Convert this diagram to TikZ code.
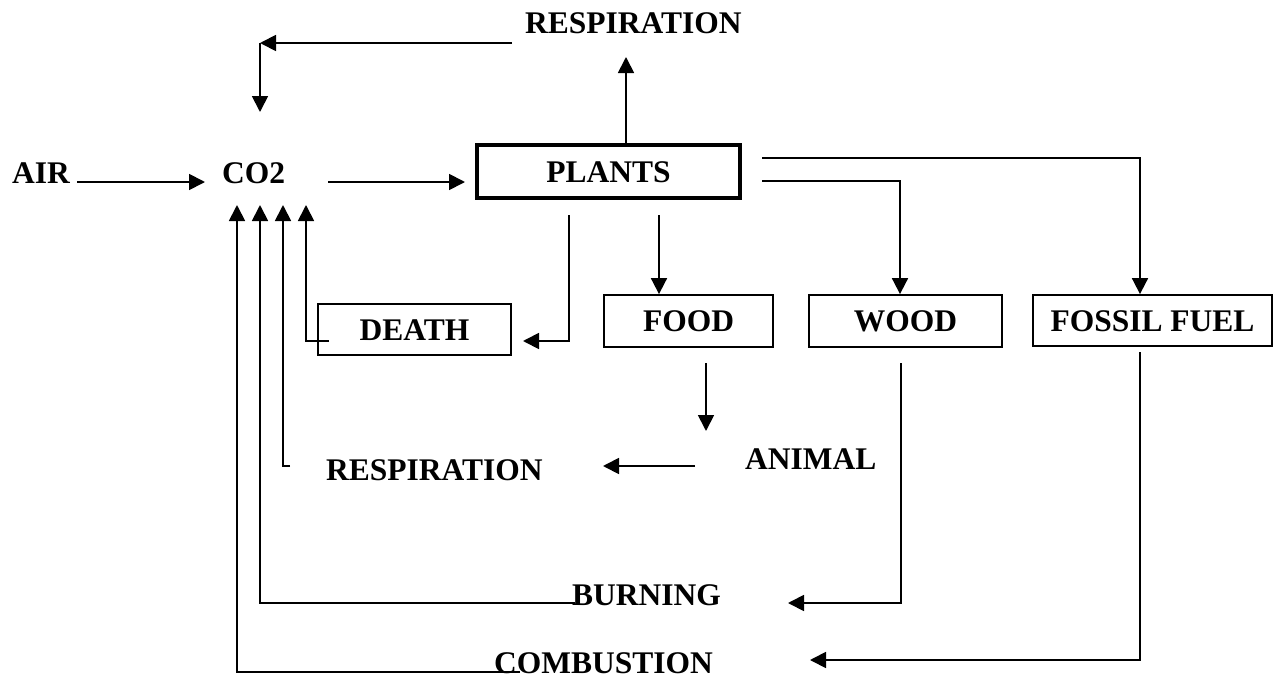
\documentclass[tikz,border=0pt]{standalone}
\usepackage{fontspec}
\setmainfont{Liberation Serif}
\usetikzlibrary{arrows.meta}
\begin{document}
\begin{tikzpicture}[x=1pt,y=-1pt,
  txt/.style={font=\fontsize{31.5}{36}\selectfont\bfseries},
  lbl/.style={txt, inner sep=0pt, anchor=base west},
  box/.style={txt, draw, line width=1.8pt, inner sep=0pt, text height=21pt, text depth=0pt, anchor=center},
  conn/.style={line width=1.8pt},
  arr/.style={conn, -{Triangle[length=16pt,width=16pt]}}]
\useasboundingbox (0,0) rectangle (1278,680);

% text labels
\node[lbl] (resptop) at (525,33) {RESPIRATION};
\node[lbl] (air) at (12,183) {AIR};
\node[lbl] (co2) at (222,183) {CO2};
\node[lbl] (resp2) at (326,480) {RESPIRATION};
\node[lbl] (animal) at (745,469) {ANIMAL};
\node[lbl] (burning) at (572,605) {BURNING};
\node[lbl] (combustion) at (494,673) {COMBUSTION};

% boxes
\node[box, line width=3.8pt, minimum width=263pt, minimum height=53pt] (plants) at (608.5,171.5) {PLANTS};
\node[box, minimum width=169pt, minimum height=52pt] (food) at (688.5,321) {FOOD};
\node[box, minimum width=193pt, minimum height=52pt] (wood) at (905.5,321) {WOOD};
\node[box, minimum width=239pt, minimum height=51pt] (fossil) at (1152.5,320.5) {FOSSIL FUEL};
\node[box, minimum width=193pt, minimum height=51pt] (death) at (414.5,329.5) {DEATH};

% named connector points
\coordinate (airout) at (77,182);
\coordinate (co2in) at (205,182);
\coordinate (co2out) at (328,182);
\coordinate (plantsin) at (465,182);
\coordinate (plantsup) at (626,143);
\coordinate (resptopin) at (626,57);
\coordinate (resptopout) at (512,43);
\coordinate (corner) at (260,43);
\coordinate (co2top) at (260,112);
\coordinate (pr1) at (762,158);
\coordinate (pr2) at (762,181);
\coordinate (pb1) at (569,215);
\coordinate (pb2) at (659,215);
\coordinate (deathin) at (523,341);
\coordinate (deathout) at (329,341);
\coordinate (foodout) at (706,363);
\coordinate (animalin) at (706,431);
\coordinate (animalout) at (695,466);
\coordinate (resp2in) at (603,466);
\coordinate (resp2out) at (290,466);
\coordinate (woodout) at (901,363);
\coordinate (burnin) at (788,603);
\coordinate (burnout) at (575,603);
\coordinate (fossilout) at (1140,352);
\coordinate (combin) at (810,660);
\coordinate (combout) at (520,672);
\coordinate (up1) at (237,205);
\coordinate (up2) at (260,205);
\coordinate (up3) at (283,205);
\coordinate (up4) at (306,205);

% connectors
\draw[arr] (airout) -- (co2in);
\draw[arr] (co2out) -- (plantsin);
\draw[arr] (plantsup) -- (resptopin);
\draw[arr] (resptopout) -- (corner);
\draw[arr] (corner) -- (co2top);
\draw[arr] (pr1) -| (fossil.north -| 1140,0);
\draw[arr] (pr2) -| (wood.north -| 900,0);
\draw[arr] (pb2) -- (food.north -| pb2);
\draw[arr] (pb1) |- (deathin);
\draw[arr] (deathout) -| (up4);
\draw[arr] (foodout) -- (animalin);
\draw[arr] (animalout) -- (resp2in);
\draw[arr] (resp2out) -| (up3);
\draw[arr] (woodout) |- (burnin);
\draw[arr] (burnout) -| (up2);
\draw[arr] (fossilout) |- (combin);
\draw[arr] (combout) -| (up1);
\end{tikzpicture}
\end{document}
